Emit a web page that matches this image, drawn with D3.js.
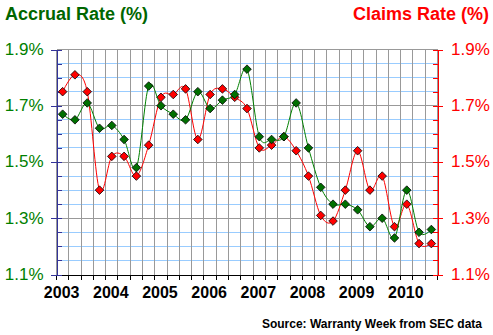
<!DOCTYPE html>
<html>
<head>
<meta charset="utf-8">
<script src="https://cdn.jsdelivr.net/npm/d3@7"></script>
<style>
  html, body { margin: 0; padding: 0; background: #fff; }
  svg { display: block; font-family: "Liberation Sans", Arial, sans-serif; }
</style>
</head>
<body>
<svg id="chart" width="493" height="335"></svg>
<script>
// ---- data ----
const quarters = [
  "2003Q1","2003Q2","2003Q3","2003Q4",
  "2004Q1","2004Q2","2004Q3","2004Q4",
  "2005Q1","2005Q2","2005Q3","2005Q4",
  "2006Q1","2006Q2","2006Q3","2006Q4",
  "2007Q1","2007Q2","2007Q3","2007Q4",
  "2008Q1","2008Q2","2008Q3","2008Q4",
  "2009Q1","2009Q2","2009Q3","2009Q4",
  "2010Q1","2010Q2","2010Q3"
];
const yearLabels = ["2003","2004","2005","2006","2007","2008","2009","2010"];
const accrualRate = [
  1.67, 1.65, 1.71, 1.62,
  1.63, 1.58, 1.48, 1.77,
  1.70, 1.67, 1.65, 1.75,
  1.69, 1.72, 1.74, 1.83,
  1.59, 1.58, 1.59, 1.71,
  1.55, 1.41, 1.35, 1.35,
  1.33, 1.27, 1.30, 1.23,
  1.40, 1.25, 1.26
];
const claimsRate = [
  1.75, 1.81, 1.75, 1.40,
  1.52, 1.52, 1.45, 1.56,
  1.73, 1.74, 1.76, 1.58,
  1.74, 1.76, 1.73, 1.69,
  1.55, 1.56, 1.59, 1.54,
  1.45, 1.31, 1.29, 1.40,
  1.54, 1.40, 1.45, 1.27,
  1.35, 1.21, 1.21
];
const majorTicks = [1.1, 1.3, 1.5, 1.7, 1.9];
const minorTicks = [1.1, 1.15, 1.2, 1.25, 1.3, 1.35, 1.4, 1.45, 1.5, 1.55, 1.6, 1.65, 1.7, 1.75, 1.8, 1.85, 1.9];
const grayLines = [1.3, 1.5, 1.7, 1.9];

// ---- layout ----
const L = 56.5, R = 437.5, T = 49.5, B = 274.5;
const svg = d3.select("#chart");

const x = d3.scaleBand().domain(quarters).range([L, R]).padding(0);
const y = d3.scaleLinear().domain([1.1, 1.9]).range([B, T]);
const cx = q => x(q) + x.bandwidth() / 2;
const snap = v => Math.round(v - 0.5) + 0.5;

// light blue horizontal lines
const blues = minorTicks.filter(v => !grayLines.includes(v) && v !== 1.1);
svg.append("g").selectAll("line").data(blues).join("line")
  .attr("x1", L).attr("x2", R)
  .attr("y1", d => snap(y(d))).attr("y2", d => snap(y(d)))
  .attr("stroke", "#99ccff").attr("stroke-width", 1).attr("shape-rendering", "crispEdges");

// vertical gray gridlines at quarter boundaries
const bounds = quarters.map(q => x(q)).concat([R]);
svg.append("g").selectAll("line").data(bounds).join("line")
  .attr("x1", d => snap(d)).attr("x2", d => snap(d))
  .attr("y1", T).attr("y2", B)
  .attr("stroke", "#999999").attr("shape-rendering", "crispEdges");

// gray horizontal major lines
svg.append("g").selectAll("line").data(grayLines).join("line")
  .attr("x1", L).attr("x2", R)
  .attr("y1", d => snap(y(d))).attr("y2", d => snap(y(d)))
  .attr("stroke", "#999999").attr("shape-rendering", "crispEdges");

// bottom axis: ticks at quarter boundaries
svg.append("g").selectAll("line").data(bounds).join("line")
  .attr("x1", d => snap(d)).attr("x2", d => snap(d))
  .attr("y1", B).attr("y2", B + 5)
  .attr("stroke", "#000").attr("shape-rendering", "crispEdges");
const xAxis = d3.axisBottom(x)
  .tickValues(quarters.filter(q => q.endsWith("Q1")))
  .tickFormat(q => yearLabels[yearLabels.indexOf(q.slice(0, 4))])
  .tickSize(0).tickSizeOuter(0).tickPadding(12.5);
const gx = svg.append("g").attr("transform", `translate(0,${B})`).call(xAxis);
gx.select(".domain").attr("stroke", "#000").attr("shape-rendering", "crispEdges");
gx.selectAll("text").attr("font-size", 16).attr("font-weight", "bold")
  .attr("font-family", "Liberation Sans, Arial, sans-serif").attr("fill", "#000")
  .attr("dx", -1);

// left axis
const leftCol = "#333399";
const gl = svg.append("g").attr("transform", `translate(${L},0)`);
gl.call(d3.axisLeft(y).tickValues(minorTicks).tickSize(-5).tickSizeOuter(0).tickFormat(""));
const glab = svg.append("g").attr("transform", `translate(${L},0)`)
  .call(d3.axisLeft(y).tickValues(majorTicks).tickSize(6).tickSizeOuter(0).tickPadding(7)
    .tickFormat(d => d.toFixed(1) + "%"));
[gl, glab].forEach(g => {
  g.selectAll("path,line").attr("stroke", leftCol).attr("shape-rendering", "crispEdges");
});
glab.selectAll("text").attr("font-size", 17).attr("fill", "#008000")
  .attr("font-family", "Liberation Sans, Arial, sans-serif").attr("dy", "0.28em");

// right axis
const rightCol = "#ff0000";
const gr = svg.append("g").attr("transform", `translate(${R},0)`);
gr.call(d3.axisRight(y).tickValues(minorTicks).tickSize(-5).tickSizeOuter(0).tickFormat(""));
const grlab = svg.append("g").attr("transform", `translate(${R},0)`)
  .call(d3.axisRight(y).tickValues(majorTicks).tickSize(5).tickSizeOuter(0).tickPadding(8.5)
    .tickFormat(d => d.toFixed(1) + "%"));
[gr, grlab].forEach(g => {
  g.selectAll("path,line").attr("stroke", rightCol).attr("shape-rendering", "crispEdges");
});
grlab.selectAll("text").attr("font-size", 17).attr("fill", "#ff0000")
  .attr("font-family", "Liberation Sans, Arial, sans-serif").attr("dy", "0.28em");

// series
const line = d3.line().curve(d3.curveCardinal.tension(0)).x(d => cx(d.q)).y(d => y(d.v));
const diamond = 4.3;
function drawSeries(vals, lineCol, fillCol) {
  const pts = quarters.map((q, i) => ({ q, v: vals[i] }));
  svg.append("path").datum(pts).attr("d", line)
    .attr("fill", "none").attr("stroke", lineCol).attr("stroke-width", 1);
  svg.append("g").selectAll("path").data(pts).join("path")
    .attr("d", d => {
      const px = cx(d.q), py = y(d.v);
      return `M${px},${py - diamond}L${px + diamond},${py}L${px},${py + diamond}L${px - diamond},${py}Z`;
    })
    .attr("fill", fillCol).attr("stroke", "#000").attr("stroke-width", 0.8);
}
drawSeries(claimsRate, "#ff0000", "#ff0000");
drawSeries(accrualRate, "#008000", "#007000");

// titles
svg.append("text").attr("x", 5).attr("y", 20)
  .attr("font-size", 18).attr("font-weight", "bold").attr("fill", "#006600")
  .text("Accrual Rate (%)");
svg.append("text").attr("x", 489).attr("y", 20).attr("text-anchor", "end")
  .attr("font-size", 18).attr("font-weight", "bold").attr("fill", "#ff0000")
  .text("Claims Rate (%)");
svg.append("text").attr("x", 482).attr("y", 328).attr("text-anchor", "end")
  .attr("font-size", 12).attr("font-weight", "bold").attr("fill", "#000")
  .text("Source: Warranty Week from SEC data");
</script>
</body>
</html>
